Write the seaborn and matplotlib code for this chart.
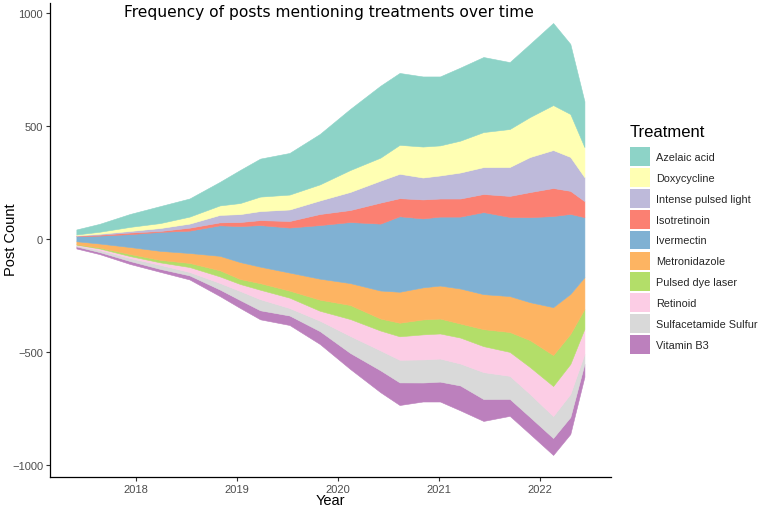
import matplotlib
matplotlib.use("Agg")
import matplotlib.pyplot as plt
import matplotlib.patches as mpatches
import seaborn as sns
import pandas as pd

# Time points (fractional year)
years = [2017.41, 2017.64, 2017.94, 2018.24, 2018.53, 2018.83, 2019.03, 2019.23,
         2019.52, 2019.82, 2020.12, 2020.42, 2020.61, 2020.84, 2021.01, 2021.21,
         2021.44, 2021.70, 2021.90, 2022.13, 2022.30, 2022.44]

treatments = ["Azelaic acid", "Doxycycline", "Intense pulsed light", "Isotretinoin",
              "Ivermectin", "Metronidazole", "Pulsed dye laser", "Retinoid",
              "Sulfacetamide Sulfur", "Vitamin B3"]

azelaic = [22, 35, 57, 75, 80, 104, 146, 168, 184, 223, 270, 318, 318, 310, 305, 323, 332, 296, 323, 363, 310, 203]
doxycycline = [4, 9, 18, 22, 31, 42, 49, 64, 66, 71, 97, 102, 128, 137, 133, 141, 155, 168, 177, 199, 190, 133]
ipl = [2, 4, 7, 13, 18, 33, 35, 40, 51, 60, 80, 97, 108, 97, 102, 115, 119, 128, 155, 168, 150, 106]
isotretinoin = [2, 4, 7, 4, 13, 13, 18, 22, 29, 49, 53, 93, 80, 84, 80, 80, 80, 93, 111, 124, 102, 71]
ivermectin = [22, 35, 57, 84, 99, 135, 159, 184, 199, 237, 270, 296, 334, 305, 305, 318, 363, 350, 376, 403, 354, 265]
metronidazole = [13, 18, 31, 40, 44, 64, 75, 73, 80, 93, 97, 124, 137, 142, 146, 155, 155, 159, 168, 212, 177, 141]
pulsed_dye = [2, 4, 9, 11, 18, 27, 22, 29, 31, 49, 62, 53, 60, 66, 66, 62, 75, 88, 119, 137, 133, 88]
retinoid = [4, 7, 9, 11, 22, 29, 31, 42, 46, 44, 75, 88, 104, 111, 111, 115, 115, 106, 119, 133, 133, 111]
sulfacetamide = [4, 9, 13, 18, 15, 29, 40, 49, 33, 46, 75, 88, 100, 102, 102, 97, 119, 102, 102, 97, 102, 44]
vitamin_b3 = [9, 9, 13, 13, 18, 29, 35, 40, 42, 57, 71, 97, 100, 84, 88, 110, 97, 75, 75, 75, 75, 57]

series = [azelaic, doxycycline, ipl, isotretinoin, ivermectin, metronidazole,
          pulsed_dye, retinoid, sulfacetamide, vitamin_b3]

long = pd.DataFrame([
    {"Year": y, "Treatment": t, "Count": v}
    for t, vals in zip(treatments, series) for y, v in zip(years, vals)
])
wide = long.pivot(index="Year", columns="Treatment", values="Count")[treatments]

sns.set_theme(style="ticks")
plt.rcParams["font.family"] = ["Liberation Sans", "DejaVu Sans"]

palette = sns.color_palette("Set3", 10)

fig = plt.figure(figsize=(7.59, 5.10), dpi=100)
ax = fig.add_axes([50 / 759, 1 - 478 / 510, (611 - 50) / 759, (478 - 4) / 510])

# Bottom layer first (Vitamin B3) so Azelaic acid ends on top
order = treatments[::-1]
cols = palette[::-1]
polys = ax.stackplot(wide.index.values, *[wide[t].values for t in order],
                     baseline="sym", colors=cols)
for p, c in zip(polys, cols):
    p.set_edgecolor(c)
    p.set_linewidth(0.4)

ax.set_xlim(2017.149, 2022.703)
ax.set_ylim(-1053, 1044)
ax.set_xticks([2018, 2019, 2020, 2021, 2022])
ax.set_yticks([-1000, -500, 0, 500, 1000])
ax.set_yticklabels(["\u22121000", "\u2212500", "0", "500", "1000"])

for s in ["top", "right"]:
    ax.spines[s].set_visible(False)
for s in ["left", "bottom"]:
    ax.spines[s].set_color("black")
    ax.spines[s].set_linewidth(0.9)
ax.tick_params(axis="both", colors="#333333", length=3, width=0.8,
               labelsize=8, labelcolor="#4D4D4D", pad=2)

ax.set_xlabel("")
ax.set_ylabel("")
fig.text(330 / 759, 1 - 501 / 510, "Year", ha="center", va="center",
         fontsize=10.5, color="black")
fig.text(11 / 759, 1 - 240 / 510, "Post Count", ha="center", va="center",
         rotation=90, fontsize=10.5, color="black")

fig.text(329 / 759, 1 - 12 / 510, "Frequency of posts mentioning treatments over time",
         ha="center", va="center", fontsize=11.2, family="DejaVu Sans", color="black")

fig.text(630 / 759, 1 - 133 / 510, "Treatment", ha="left", va="center",
         fontsize=12, color="black")

handles = [mpatches.Patch(facecolor=c, edgecolor="none", label=t)
           for t, c in zip(treatments, palette)]
leg = fig.legend(handles=handles, loc="upper left",
                 bbox_to_anchor=(630 / 759, 1 - 148 / 510), frameon=False,
                 fontsize=7.8, handlelength=1.85, handleheight=2.3,
                 labelspacing=0.19, handletextpad=0.55, borderpad=0, borderaxespad=0)

fig.savefig("out.png", dpi=100)
